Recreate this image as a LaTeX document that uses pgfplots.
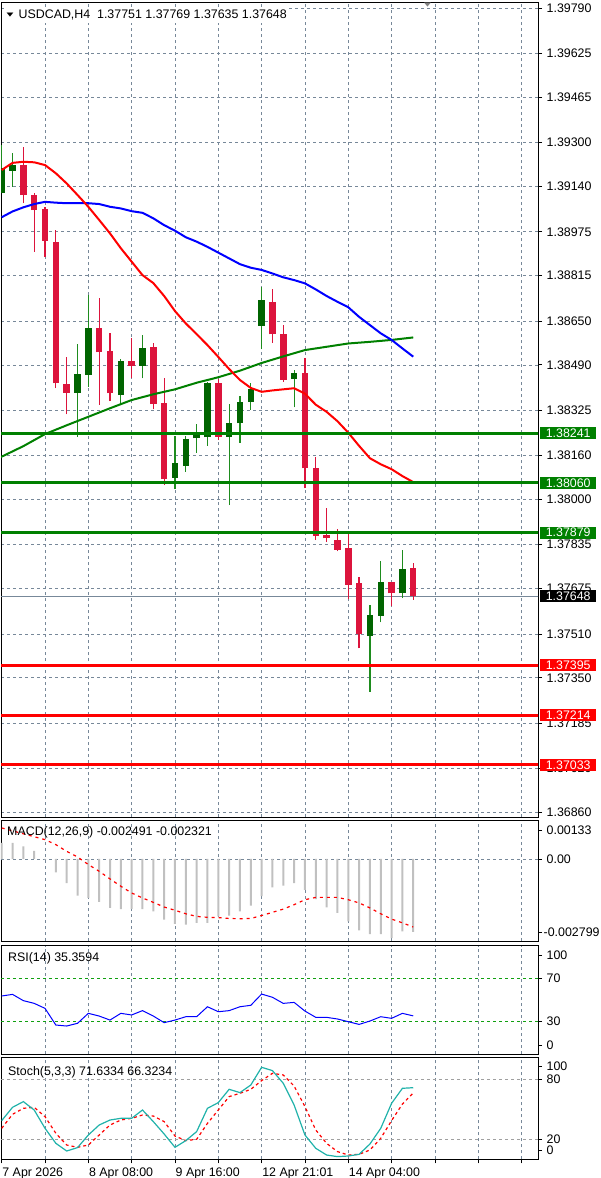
\documentclass[border=0pt]{standalone}
\usepackage{pgfplots}
\pgfplotsset{compat=1.18}
\usepackage{pgfplotstable}
\usepackage{fontspec}
\setmainfont{Liberation Sans}
\newfontfamily\symfont{DejaVu Sans}

\definecolor{gridc}{HTML}{778899}
\definecolor{bullb}{HTML}{006400}
\definecolor{bullw}{HTML}{1E8C1E}
\definecolor{bearc}{HTML}{DC143C}
\definecolor{levg}{HTML}{008000}
\definecolor{levr}{HTML}{FF0000}
\definecolor{histc}{HTML}{C0C0C0}
\definecolor{stochc}{HTML}{20B2AA}
\definecolor{rsilev}{HTML}{10A010}
\definecolor{stlev}{HTML}{A0A0A0}

\newcommand\lbl{\fontsize{12.4}{14}\selectfont}

\pgfplotsset{
  panel/.style={
    scale only axis, width=537pt, anchor=north west,
    xmin=-0.065, xmax=49.52,
    axis line style={line width=0.8pt},
    xtick={4,8,...,48}, xticklabels={},
    xmajorgrids,
    grid style={gridc, line width=0.7pt, dash pattern=on 3pt off 3pt},
    scaled ticks=false,
    ytick pos=right, yticklabel pos=right, xtick pos=bottom,
    tick align=outside, major tick length=4pt,
    tick style={black, line width=0.8pt},
    every tick label/.append style={font=\lbl},
    yticklabel style={anchor=west, inner sep=0pt, xshift=4.5pt},
  },
}

\pgfplotstableread{
i o h l c
0 1.39117 1.39291 1.39116 1.39206
1 1.39197 1.39261 1.39139 1.39218
7 1.38389 1.38565 1.38228 1.38457
8 1.38453 1.38744 1.38410 1.38623
11 1.38380 1.38510 1.38344 1.38505
13 1.38486 1.38599 1.38441 1.38552
16 1.38079 1.38231 1.38037 1.38131
17 1.38122 1.38231 1.38101 1.38219
18 1.38222 1.38275 1.38170 1.38243
19 1.38226 1.38429 1.38196 1.38425
21 1.38228 1.38347 1.37979 1.38277
22 1.38277 1.38377 1.38207 1.38356
23 1.38356 1.38425 1.38326 1.38401
24 1.38632 1.38775 1.38547 1.38726
27 1.38438 1.38471 1.38335 1.38459
34 1.37502 1.37615 1.37299 1.37579
35 1.37576 1.37777 1.37552 1.37700
37 1.37658 1.37816 1.37640 1.37746
}\bull

\pgfplotstableread{
i o h l c
2 1.39218 1.39285 1.39079 1.39109
3 1.39109 1.39115 1.38902 1.39054
4 1.39057 1.39065 1.38884 1.38942
5 1.38936 1.38981 1.38405 1.38423
6 1.38420 1.38520 1.38310 1.38389
9 1.38623 1.38732 1.38344 1.38536
10 1.38540 1.38605 1.38358 1.38386
12 1.38505 1.38589 1.38441 1.38486
14 1.38554 1.38571 1.38328 1.38347
15 1.38352 1.38441 1.38052 1.38073
20 1.38425 1.38437 1.38216 1.38228
25 1.38720 1.38765 1.38571 1.38601
26 1.38602 1.38635 1.38429 1.38435
28 1.38459 1.38514 1.38040 1.38113
29 1.38115 1.38153 1.37852 1.37866
30 1.37870 1.37967 1.37846 1.37858
31 1.37852 1.37891 1.37811 1.37816
32 1.37822 1.37882 1.37636 1.37690
33 1.37694 1.37718 1.37457 1.37508
36 1.37700 1.37700 1.37610 1.37658
38 1.37751 1.37769 1.37635 1.37648
}\bear

% moving averages: fast (red), slow (blue), long (green)
\pgfplotstableread{
i red blue
0 1.39200 1.39028
1 1.39226 1.39049
2 1.39230 1.39064
3 1.39228 1.39076
4 1.39218 1.39084
5 1.39188 1.39081
6 1.39151 1.39079
7 1.39109 1.39079
8 1.39066 1.39079
9 1.39018 1.39076
10 1.38969 1.39066
11 1.38915 1.39060
12 1.38866 1.39050
13 1.38817 1.39044
14 1.38788 1.39024
15 1.38741 1.38999
16 1.38686 1.38979
17 1.38641 1.38955
18 1.38602 1.38939
19 1.38562 1.38920
20 1.38519 1.38899
21 1.38475 1.38878
22 1.38435 1.38857
23 1.38406 1.38844
24 1.38392 1.38836
25 1.38397 1.38823
26 1.38401 1.38809
27 1.38405 1.38799
28 1.38385 1.38787
29 1.38345 1.38765
30 1.38319 1.38741
31 1.38285 1.38720
32 1.38243 1.38700
33 1.38195 1.38665
34 1.38150 1.38635
35 1.38128 1.38605
36 1.38110 1.38581
37 1.38085 1.38550
38 1.38063 1.38520
}\mas

\pgfplotstableread{
i g
-0.2 1.38152
2 1.38194
4 1.38238
6 1.38270
8 1.38301
10 1.38332
12 1.38362
14 1.38383
16 1.38401
18 1.38425
20 1.38445
22 1.38469
24 1.38497
26 1.38521
28 1.38544
30 1.38556
32 1.38568
34 1.38574
36 1.38581
38 1.38590
}\lma

\pgfplotstableread{
i m s
0 0.00055 0.00106
1 0.00055 0.00096
2 0.00043 0.00086
3 0.00028 0.00076
4 -0.00002 0.00066
5 -0.00046 0.00049
6 -0.00082 0.00026
7 -0.00125 0.00007
8 -0.00133 -0.00019
9 -0.00146 -0.00042
10 -0.00167 -0.00068
11 -0.00171 -0.00093
12 -0.00170 -0.00116
13 -0.00171 -0.00133
14 -0.00179 -0.00148
15 -0.00207 -0.00164
16 -0.00221 -0.00175
17 -0.00224 -0.00187
18 -0.00218 -0.00196
19 -0.00218 -0.00199
20 -0.00196 -0.00200
21 -0.00193 -0.00203
22 -0.00179 -0.00204
23 -0.00159 -0.00203
24 -0.00127 -0.00193
25 -0.00097 -0.00182
26 -0.00091 -0.00171
27 -0.00082 -0.00156
28 -0.00105 -0.00139
29 -0.00137 -0.00131
30 -0.00165 -0.00131
31 -0.00184 -0.00131
32 -0.00213 -0.00139
33 -0.00244 -0.00150
34 -0.00256 -0.00167
35 -0.00256 -0.00187
36 -0.00270 -0.00205
37 -0.00247 -0.00218
38 -0.002491 -0.002321
}\macd

\pgfplotstableread{
i r k d
0 53.7 38.7 31.0
1 55.2 52.0 45.0
2 49.4 57.7 51.0
3 46.9 49.3 52.0
4 42.3 31.0 42.7
5 26.9 16.0 26.0
6 26.0 8.3 14.3
7 28.5 11.7 12.0
8 37.7 24.3 14.3
9 35.2 34.3 24.3
10 31.5 39.3 34.3
11 37.7 41.0 39.3
12 36.2 41.0 41.0
13 40.2 49.3 44.3
14 35.2 37.7 43.3
15 29.1 25.3 37.7
16 31.5 12.0 23.3
17 34.6 18.7 18.7
18 34.6 27.7 20.0
19 43.8 51.0 36.0
20 39.2 56.7 49.3
21 40.2 70.0 62.7
22 43.8 66.7 66.0
23 45.1 74.3 70.0
24 55.5 92.0 78.7
25 52.5 88.7 86.0
26 46.9 76.0 84.3
27 47.8 54.3 73.3
28 39.8 24.3 52.7
29 34.0 11.0 29.3
30 34.0 4.3 16.0
31 32.5 2.7 7.7
32 30.0 3.3 4.3
33 27.5 5.0 5.0
34 30.6 15.3 9.3
35 34.6 31.0 21.0
36 33.1 56.0 38.7
37 37.7 71.0 55.3
38 35.3594 71.6334 66.3234
}\osc

\pgfplotstableread{
x y t
49.52 1.38241 1.38241
49.52 1.38060 1.38060
49.52 1.37879 1.37879
}\lvg
\pgfplotstableread{
x y t
49.52 1.37395 1.37395
49.52 1.37214 1.37214
49.52 1.37033 1.37033
}\lvr
\pgfplotstableread{
x y t
49.52 1.37648 1.37648
}\lvc

\begin{document}
\begin{tikzpicture}
\path[use as bounding box] (0,0) rectangle (600pt,-1178pt);

% ---------------- price panel ----------------
\begin{axis}[panel, at={(1pt,-2pt)}, height=815pt,
  ymin=1.36843, ymax=1.39812, ymajorgrids,
  xtick style={draw=none},
  ytick={1.36860,1.37020,1.37185,1.37350,1.37510,1.37675,1.37835,1.38000,1.38160,1.38325,1.38490,1.38650,1.38815,1.38975,1.39140,1.39300,1.39465,1.39625,1.39790},
  yticklabels={1.36860,1.37020,1.37185,1.37350,1.37510,1.37675,1.37835,1.38000,1.38160,1.38325,1.38490,1.38650,1.38815,1.38975,1.39140,1.39300,1.39465,1.39625,1.39790},
]
% current price line
\addplot[no marks, gridc, line width=0.8pt] coordinates {(-1,1.37648) (50,1.37648)};
% wicks
\addplot[draw=none, mark=none, error bars/.cd, y dir=plus, y explicit, error mark=none,
  error bar style={line width=1.2pt, draw=bullw}]
  table[x=i, y=l, y error expr=\thisrow{h}-\thisrow{l}] {\bull};
\addplot[draw=none, mark=none, error bars/.cd, y dir=plus, y explicit, error mark=none,
  error bar style={line width=1.2pt, draw=bearc}]
  table[x=i, y=l, y error expr=\thisrow{h}-\thisrow{l}] {\bear};
% bodies
\addplot[draw=none, mark=none, error bars/.cd, y dir=plus, y explicit, error mark=none,
  error bar style={line width=6.5pt, draw=bullb}]
  table[x=i, y=o, y error expr=\thisrow{c}-\thisrow{o}] {\bull};
\addplot[draw=none, mark=none, error bars/.cd, y dir=plus, y explicit, error mark=none,
  error bar style={line width=6.5pt, draw=bearc}]
  table[x=i, y=c, y error expr=\thisrow{o}-\thisrow{c}] {\bear};
% moving averages
\addplot[no marks, levg, line width=2pt] table[x=i, y=g] {\lma};
\addplot[no marks, blue, line width=2pt] table[x=i, y=blue] {\mas};
\addplot[no marks, red, line width=2pt] table[x=i, y=red] {\mas};
% levels
\addplot[no marks, levg, line width=3pt] coordinates {(-1,1.38241) (50,1.38241)};
\addplot[no marks, levg, line width=3pt] coordinates {(-1,1.38060) (50,1.38060)};
\addplot[no marks, levg, line width=3pt] coordinates {(-1,1.37879) (50,1.37879)};
\addplot[no marks, levr, line width=3pt] coordinates {(-1,1.37395) (50,1.37395)};
\addplot[no marks, levr, line width=3pt] coordinates {(-1,1.37214) (50,1.37214)};
\addplot[no marks, levr, line width=3pt] coordinates {(-1,1.37033) (50,1.37033)};
\end{axis}

% level price boxes on the right scale
\begin{axis}[at={(1pt,-2pt)}, anchor=north west, scale only axis, width=537pt, height=815pt,
  xmin=-0.065, xmax=49.52, ymin=1.36843, ymax=1.39812, hide axis, clip=false,
  nodes near coords style={anchor=west, inner sep=0pt, minimum width=56pt, minimum height=12pt,
    xshift=2pt, text=white, font=\lbl}]
\addplot[only marks, mark=none, point meta=explicit symbolic, nodes near coords,
  nodes near coords style={fill=levg}] table[x=x, y=y, meta=t] {\lvg};
\addplot[only marks, mark=none, point meta=explicit symbolic, nodes near coords,
  nodes near coords style={fill=levr}] table[x=x, y=y, meta=t] {\lvr};
\addplot[only marks, mark=none, point meta=explicit symbolic, nodes near coords,
  nodes near coords style={fill=black}] table[x=x, y=y, meta=t] {\lvc};
\end{axis}

% ---------------- MACD ----------------
\begin{axis}[panel, at={(1pt,-820pt)}, height=121pt,
  ymin=-0.002799, ymax=0.00133,
  xtick style={draw=none},
  ytick={-0.00249,0.00099}, yticklabels={\kern-3pt-0.002799,0.00133},
  extra y ticks={0}, extra y tick labels={0.00}, extra y tick style={grid=major},
]
\addplot[ybar, bar width=2pt, bar shift=0pt, fill=histc, draw=none] table[x=i, y=m] {\macd};
\addplot[no marks, red, line width=1.2pt, dash pattern=on 3pt off 4pt] table[x=i, y=s] {\macd};
\end{axis}

% ---------------- RSI ----------------
\begin{axis}[panel, at={(1pt,-945.8pt)}, height=108.4pt,
  ymin=0, ymax=100,
  xtick style={draw=none},
  ytick={8.5,91.5}, yticklabels={0,100},
  extra y ticks={30,70}, extra y tick labels={30,70},
  extra y tick style={grid=major, grid style={rsilev, line width=0.9pt, dash pattern=on 3pt off 3pt}},
]
\addplot[no marks, blue, line width=1pt] table[x=i, y=r] {\osc};
\end{axis}

% ---------------- Stochastic ----------------
\begin{axis}[panel, at={(1pt,-1057pt)}, height=102.3pt,
  ymin=0, ymax=102.3,
  xticklabels={,8 Apr 08:00,,9 Apr 16:00,,12 Apr 21:01,,14 Apr 04:00,,,,},
  extra x ticks={0}, extra x tick labels={7 Apr 2026}, extra x tick style={grid=none},
  xticklabel style={anchor=north west, inner sep=0pt, xshift=0.5pt, yshift=-4pt},
  ytick={9.3,92.6}, yticklabels={0,100},
  extra y ticks={20,80}, extra y tick labels={20,80},
  extra y tick style={grid=major, grid style={stlev, line width=0.8pt, dash pattern=on 3pt off 3pt}},
]
\addplot[no marks, red, line width=1.2pt, dash pattern=on 3pt off 3pt] table[x=i, y=d] {\osc};
\addplot[no marks, stochc, line width=1.2pt] table[x=i, y=k] {\osc};
\end{axis}

% panel captions
\node[anchor=base west, inner xsep=1pt, inner ysep=3pt, fill=white, font=\lbl]
  at (5.5pt,-18.3pt) {{\symfont\fontsize{9}{10}\selectfont\raisebox{1.5pt}{\scalebox{1}[0.6]{▼}}}\hspace{5pt}USDCAD,H4\ \ 1.37751 1.37769 1.37635 1.37648};
\node[anchor=base west, inner sep=0pt, text=gray, font=\symfont\fontsize{9}{10}\selectfont]
  at (424pt,-6pt) {\scalebox{1}[0.6]{▼}};
\node[anchor=base west, inner sep=0pt, font=\lbl]
  at (7pt,-835.7pt) {MACD(12,26,9) -0.002491 -0.002321};
\node[anchor=base west, inner sep=0pt, font=\lbl]
  at (8pt,-961.5pt) {RSI(14) 35.3594};
\node[anchor=base west, inner sep=0pt, font=\lbl]
  at (8pt,-1075pt) {Stoch(5,3,3) 71.6334 66.3234};
\end{tikzpicture}
\end{document}
